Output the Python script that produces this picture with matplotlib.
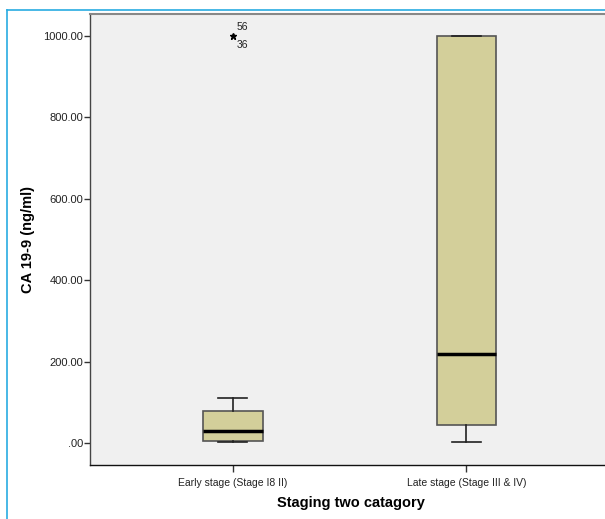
import matplotlib
matplotlib.use("Agg")
import matplotlib.pyplot as plt
from matplotlib.lines import Line2D

categories = ["Early stage (Stage I8 II)", "Late stage (Stage III & IV)"]
q1 = [5.7, 44.0]
medians = [29.5, 218.0]
q3 = [78.6, 1000.0]
whisker_low = [1.7, 2.0]
whisker_high = [110.0, 1000.0]
outliers = [[1000.0], []]
outlier_ids = [["56", "36"], []]
yticks = [0, 200, 400, 600, 800, 1000]
ytick_labels = [".00", "200.00", "400.00", "600.00", "800.00", "1000.00"]

plt.rcParams['font.family'] = ['Liberation Sans', 'DejaVu Sans']

fig = plt.figure(figsize=(6.05, 5.19), dpi=100)
ax = fig.add_axes([90/605, 1-465/519, 1-90/605+0.01, (465-14)/519])
ax.set_facecolor('#f0f0f0')

stats = []
for i in range(len(categories)):
    stats.append(dict(med=medians[i], q1=q1[i], q3=q3[i],
                      whislo=whisker_low[i], whishi=whisker_high[i],
                      fliers=[]))
pos = [1, 2]
ax.bxp(stats, positions=pos, widths=0.254, patch_artist=True,
       showfliers=False,
       boxprops=dict(facecolor='#d3cf9a', edgecolor='#555555', linewidth=1.2),
       medianprops=dict(color='black', linewidth=2.5),
       whiskerprops=dict(color='#222222', linewidth=1.2),
       capprops=dict(color='#222222', linewidth=1.2),
       capwidths=0.125)

for i, vals in enumerate(outliers):
    for v in vals:
        ax.plot(pos[i], v, marker='*', color='black', markersize=5, linestyle='none')
        if outlier_ids[i]:
            ax.annotate(outlier_ids[i][0], (pos[i], v), xytext=(2.5, 4),
                        textcoords='offset points', fontsize=7.5, color='#222222')
            ax.annotate(outlier_ids[i][1], (pos[i], v), xytext=(2.5, -9),
                        textcoords='offset points', fontsize=7.5, color='#222222')

ax.set_xlim(0.388, 2.62)
ax.set_ylim(-54, 1054)
ax.set_yticks(yticks)
ax.set_yticklabels(ytick_labels, fontsize=8, color='#222222')
ax.set_xticks(pos)
ax.set_xticklabels(categories, fontsize=7.5, color='#222222')
ax.tick_params(axis='y', length=4, width=1, color='#333333', pad=1)
ax.tick_params(axis='x', length=5, width=1, color='#333333', pad=4)

ax.spines['right'].set_visible(False)
ax.spines['top'].set_color('#888888')
ax.spines['top'].set_linewidth(1.5)
ax.spines['left'].set_color('#444444')
ax.spines['bottom'].set_color('#111111')
ax.spines['left'].set_linewidth(1.0)
ax.spines['bottom'].set_linewidth(1.0)

ax.set_xlabel("Staging two catagory", fontsize=10.5, fontweight='bold', labelpad=6)
ax.set_ylabel("CA 19-9 (ng/ml)", fontsize=10.5, fontweight='bold', labelpad=6)

fig.add_artist(Line2D([7/605, 7/605], [0, 1-10/519], color='#29abe2', linewidth=1.2, transform=fig.transFigure))
fig.add_artist(Line2D([7/605, 1], [1-10/519, 1-10/519], color='#29abe2', linewidth=1.2, transform=fig.transFigure))

fig.savefig("out.png", dpi=100)
